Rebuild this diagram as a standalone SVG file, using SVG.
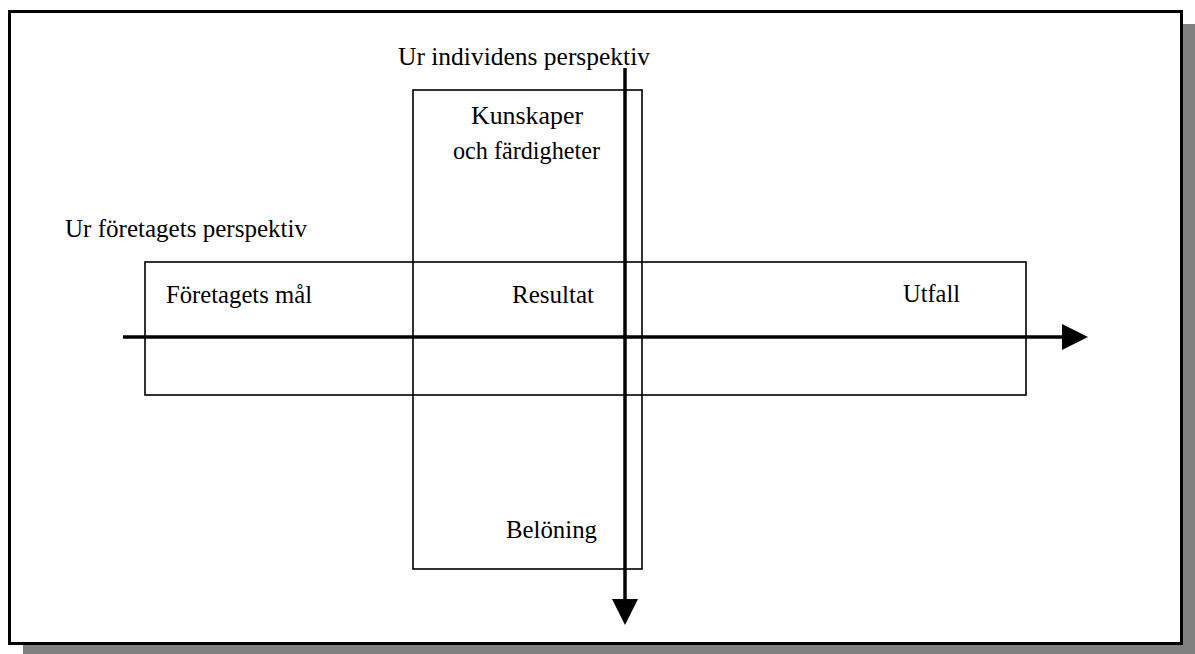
<svg xmlns="http://www.w3.org/2000/svg" width="1195" height="654" viewBox="0 0 1195 654">
  <defs>
    <style>
      .lbl { font-family: "Liberation Serif", "Times New Roman", serif; font-size: 25px; fill: #000; }
      .box { fill: none; stroke: #000; stroke-width: 1.6; }
      .axis { fill: none; stroke: #000; stroke-width: 3.5; }
    </style>
    <marker id="head" markerUnits="userSpaceOnUse" markerWidth="26" markerHeight="26" refX="0" refY="13" orient="auto" viewBox="0 0 26 26">
      <path d="M0,0 L26,13 L0,26 Z" fill="#000"/>
    </marker>
  </defs>

  <!-- page frame with drop shadow -->
  <g id="frame">
    <rect x="23" y="24" width="1172" height="630" fill="#808080"/>
    <rect x="9.5" y="11.5" width="1172" height="632" fill="#fff" stroke="#000" stroke-width="3"/>
  </g>

  <!-- horizontal band: company perspective -->
  <g id="company-band">
    <rect class="box" x="145" y="262" width="881" height="133"/>
    <text class="lbl" x="65" y="237" textLength="242" lengthAdjust="spacingAndGlyphs">Ur företagets perspektiv</text>
    <text class="lbl" x="166" y="303" textLength="146" lengthAdjust="spacingAndGlyphs">Företagets mål</text>
    <text class="lbl" x="903" y="302" textLength="57" lengthAdjust="spacingAndGlyphs">Utfall</text>
  </g>

  <!-- vertical band: individual perspective -->
  <g id="individual-band">
    <rect class="box" x="413" y="90" width="229" height="479"/>
    <text class="lbl" x="398" y="65" textLength="252" lengthAdjust="spacingAndGlyphs">Ur individens perspektiv</text>
    <text class="lbl" x="471" y="124" textLength="112" lengthAdjust="spacingAndGlyphs">Kunskaper</text>
    <text class="lbl" x="453" y="159" textLength="147" lengthAdjust="spacingAndGlyphs">och färdigheter</text>
    <text class="lbl" x="506" y="538" textLength="91" lengthAdjust="spacingAndGlyphs">Belöning</text>
  </g>

  <!-- centre cell -->
  <g id="result">
    <text class="lbl" x="512" y="303" textLength="82" lengthAdjust="spacingAndGlyphs">Resultat</text>
  </g>

  <!-- axes -->
  <g id="connectors">
    <line class="axis" x1="123" y1="337" x2="1062" y2="337" marker-end="url(#head)"/>
    <line class="axis" x1="625" y1="68" x2="625" y2="599" marker-end="url(#head)"/>
  </g>
</svg>
